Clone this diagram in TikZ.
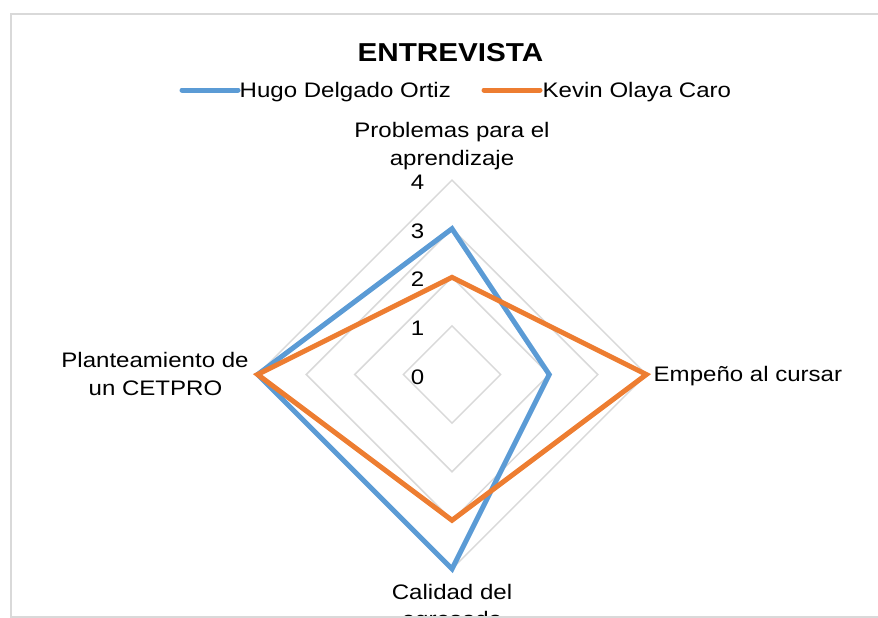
\documentclass[tikz,border=0pt]{standalone}
\usepackage{fontspec}
\setmainfont{Liberation Sans}[FakeStretch=1.145]
\usetikzlibrary{calc}
\definecolor{hugoc}{HTML}{5B9BD5}
\definecolor{kevinc}{HTML}{ED7D31}
\definecolor{gridc}{HTML}{D9D9D9}
\begin{document}
\begin{tikzpicture}[x=1pt,y=-1pt,
  lbl/.style={inner sep=0pt, font=\fontsize{21}{25}\selectfont},
  ttl/.style={inner sep=0pt, font=\fontsize{25.9}{30}\selectfont\bfseries},
  gridring/.style={draw=gridc, line width=1.5pt},
  series/.style={line width=5pt, line join=miter},
  legline/.style={line width=5pt, line cap=round},
  frame/.style={draw=gridc, line width=2pt}
]
\useasboundingbox (0,0) rectangle (878,618);
\clip (0,0) rectangle (878,618);
\coordinate (O) at (452,374.5);
\def\u{48.6}
% grid rings
\foreach \k in {1,2,3,4} {
  \pgfmathsetmacro\r{\u*\k}
  \draw[gridring] ($(O)+(0,-\r)$) -- ($(O)+(\r,0)$) -- ($(O)+(0,\r)$) -- ($(O)+(-\r,0)$) -- cycle;
  \node[lbl, anchor=base] (n\k) at ($(O)+(-34.5,-\r+9.5)$) {\k};
}
\node[lbl, anchor=base] (n0) at ($(O)+(-34.5,9.5)$) {0};
% series vertices
\coordinate (h1) at ($(O)+(0,-3*\u)$);
\coordinate (h2) at ($(O)+(2*\u,0)$);
\coordinate (h3) at ($(O)+(0,4*\u)$);
\coordinate (h4) at ($(O)+(-4*\u,0)$);
\coordinate (k1) at ($(O)+(0,-2*\u)$);
\coordinate (k2) at ($(O)+(4*\u,0)$);
\coordinate (k3) at ($(O)+(0,3*\u)$);
\coordinate (k4) at ($(O)+(-4*\u,0)$);
\draw[series, hugoc] (h1) -- (h2) -- (h3) -- (h4) -- cycle;
\draw[series, kevinc] (k1) -- (k2) -- (k3) -- (k4) -- cycle;
% title and legend
\node[ttl, anchor=base] (title) at (450.5,62) {ENTREVISTA};
\coordinate (hl1) at (182,90);
\coordinate (hl2) at (238,90);
\coordinate (kl1) at (484,90);
\coordinate (kl2) at (540,90);
\draw[legline, hugoc] (hl1) -- (hl2);
\draw[legline, kevinc] (kl1) -- (kl2);
\node[lbl, anchor=base west] (hugo) at (239.5,97.5) {Hugo Delgado Ortiz};
\node[lbl, anchor=base west] (kevin) at (542.5,97.5) {Kevin Olaya Caro};
% axis labels
\node[lbl, anchor=base] (top1) at (452,137.7) {Problemas para el};
\node[lbl, anchor=base] (top2) at (452,165) {aprendizaje};
\node[lbl, anchor=base west] (right) at (653.5,381.5) {Empeño al cursar};
\node[lbl, anchor=base] (left1) at (155,367.3) {Planteamiento de};
\node[lbl, anchor=base] (left2) at (155.5,395) {un CETPRO};
\node[lbl, anchor=base] (bot1) at (452,599.3) {Calidad del};
\node[lbl, anchor=base] (bot2) at (452,626.5) {egresado};
% chart frame
\draw[frame] (890,14) -- (11,14) -- (11,617) -- (890,617);
\end{tikzpicture}
\end{document}
